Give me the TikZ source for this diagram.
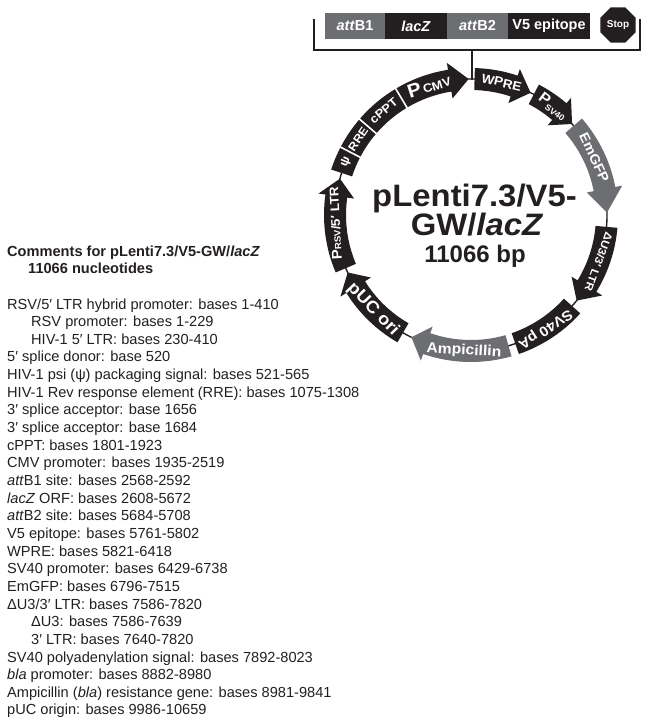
\documentclass[tikz,border=0pt]{standalone}
\usepackage{fontspec}
\setmainfont{Liberation Sans}
\newfontfamily\lblfont[FakeStretch=1.08]{Liberation Sans}
\newfontfamily\titlefont[FakeStretch=1.06]{Liberation Sans}
\usetikzlibrary{shapes.geometric}
\definecolor{ink}{HTML}{231F20}
\definecolor{grayseg}{HTML}{6D6E71}
\newcommand\fs[1]{\fontsize{#1}{#1}\selectfont}
% clockwise arrow: #1 start angle, #2 tip angle, #3 head length (deg), #4 fill
\newcommand\plarrow[4]{\pgfmathsetmacro\hb{#2+#3}%
  \fill[#4] (#1:147) arc[start angle=#1, end angle=\hb, radius=147] -- (\hb:154) -- (#2:136) -- (\hb:118) -- (\hb:125) arc[start angle=\hb, end angle=#1, radius=125] -- cycle;}
\newcommand\plbox[3]{%
  \fill[#3] (#1:147) arc[start angle=#1, end angle=#2, radius=147] -- (#2:125) arc[start angle=#2, end angle=#1, radius=125] -- cycle;}
\begin{document}
\begin{tikzpicture}[x=1pt,y=1pt]
\useasboundingbox (0,0) rectangle (646,-721);
\tikzset{
  lbl/.style={text=white,font=\lblfont\bfseries,inner sep=0pt},
  topbox/.style={inner sep=0pt,minimum height=26.6,text=white,font=\bfseries\fs{14.5}},
  ln/.style={anchor=base west,inner sep=0pt,text=ink,font=\fs{14.6}},
  hd/.style={anchor=base west,inner sep=0pt,text=ink,font=\bfseries\fs{14.6}},
  ctr/.style={anchor=base,inner sep=0pt,text=ink},
  thin/.style={draw=ink,line width=1.4},
}
% ---------- top bracket ----------
\coordinate (brL) at (314,-19);
\coordinate (brLb) at (314,-50);
\coordinate (brRb) at (640,-50);
\coordinate (brR) at (640,-19);
\coordinate (stemtop) at (472,-50);
\coordinate (stembot) at (472,-79.5);
\draw[thin] (brL) -- (brLb) -- (brRb) -- (brR);
\draw[thin] (stemtop) -- (stembot);
\node[topbox,fill=grayseg,minimum width=60] (attB1) at (355,-26) {\textit{att}B1};
\node[topbox,fill=ink,minimum width=62] (lacZ) at (416,-26) {\textit{lacZ}};
\node[topbox,fill=grayseg,minimum width=61] (attB2) at (477.5,-26) {\textit{att}B2};
\node[topbox,fill=ink,minimum width=82] (V5) at (549,-26) {V5 epitope};
\node[regular polygon,regular polygon sides=8,minimum size=38,fill=ink,inner sep=0pt,text=white,font=\bfseries\fs{10}] (stop) at (618,-25) {Stop};
% ---------- plasmid ----------
\begin{scope}[shift={(471,-215)}]
\draw[thin] (0,0) circle[radius=136];
\plarrow{203}{164.5}{7.5}{ink}
\plbox{162}{152.5}{ink}
\plbox{152.5}{139.3}{ink}
\plbox{139.3}{120.8}{ink}
\plarrow{120.8}{91}{8}{ink}
\draw[white,line width=1.6] (152.5:121) -- (152.5:151);
\draw[white,line width=1.6] (139.3:121) -- (139.3:151);
\draw[white,line width=1.6] (120.8:121) -- (120.8:151);
\plarrow{88.5}{64}{7.5}{ink}
\plarrow{62.5}{42}{7.5}{ink}
\plarrow{41}{1}{10}{grayseg}
\plarrow{355}{321}{7.5}{ink}
\plbox{318}{289}{ink}
\plarrow{286}{244}{7}{grayseg}
\plarrow{240}{205}{7}{ink}
% labels
\node[lbl,rotate=93] (lRSV) at (183.5:136) {{\fs{14}P}{\fs{9}RSV}{\fs{12.5}/5′ LTR}};
\node[lbl,rotate=67] (lpsi) at (157:136) {\fs{12}ψ};
\node[lbl,rotate=56] (lRRE) at (146:136) {\fs{11.5}RRE};
\node[lbl,rotate=40] (lcPPT) at (130:136) {\fs{12}cPPT};
\node[lbl,rotate=18] (lCMV) at (108:136) {{\fs{19}P}\,{\fs{12}CMV}};
\node[lbl,rotate=-13] (lWPRE) at (77:136) {\fs{12.5}WPRE};
\node[lbl,rotate=-37] (lSV) at (53:136) {{\fs{15}P}\raisebox{-3.5pt}{\fs{8.5}SV40}};
\node[lbl,rotate=-65] (lGFP) at (25:136) {\fs{13.5}EmGFP};
\node[lbl,rotate=250] (lLTR) at (340:136) {\fs{11}ΔU3/3′ LTR};
\node[lbl,rotate=213] (lpA) at (303:136) {\fs{14}SV40 pA};
\node[lbl,rotate=-3] (lAmp) at (267:136) {\fs{14.5}Ampicillin};
\node[lbl,rotate=-46] (lpUC) at (224:136) {\fs{17}pUC ori};
\end{scope}
% ---------- centre title ----------
\node[ctr,font=\titlefont\bfseries\fs{31}] (t1) at (474.5,-206) {pLenti7.3/V5-};
\node[ctr,font=\titlefont\bfseries\fs{31}] (t2) at (477,-235) {GW/\textit{lacZ}};
\node[ctr,font=\bfseries\fs{24}] (t3) at (475,-262) {11066 bp};
% ---------- comments ----------
\node[hd] (h1) at (7,-256) {Comments for pLenti7.3/V5-GW/\textit{lacZ}};
\node[hd] (h2) at (28,-273) {11066 nucleotides};
\node[ln] (n1) at (7,-309) {RSV/5′ LTR hybrid promoter: bases 1-410};
\node[ln] (n2) at (31,-326.65) {RSV promoter: bases 1-229};
\node[ln] (n3) at (31,-344.3) {HIV-1 5′ LTR: bases 230-410};
\node[ln] (n4) at (7,-361.95) {5′ splice donor: base 520};
\node[ln] (n5) at (7,-379.6) {HIV-1 psi (ψ) packaging signal: bases 521-565};
\node[ln] (n6) at (7,-397.25) {HIV-1 Rev response element (RRE): bases 1075-1308};
\node[ln] (n7) at (7,-414.9) {3′ splice acceptor: base 1656};
\node[ln] (n8) at (7,-432.55) {3′ splice acceptor: base 1684};
\node[ln] (n9) at (7,-450.2) {cPPT: bases 1801-1923};
\node[ln] (n10) at (7,-467.85) {CMV promoter: bases 1935-2519};
\node[ln] (n11) at (7,-485.5) {\textit{att}B1 site: bases 2568-2592};
\node[ln] (n12) at (7,-503.15) {\textit{lacZ} ORF: bases 2608-5672};
\node[ln] (n13) at (7,-520.8) {\textit{att}B2 site: bases 5684-5708};
\node[ln] (n14) at (7,-538.45) {V5 epitope: bases 5761-5802};
\node[ln] (n15) at (7,-556.1) {WPRE: bases 5821-6418};
\node[ln] (n16) at (7,-573.75) {SV40 promoter: bases 6429-6738};
\node[ln] (n17) at (7,-591.4) {EmGFP: bases 6796-7515};
\node[ln] (n18) at (7,-609.05) {ΔU3/3′ LTR: bases 7586-7820};
\node[ln] (n19) at (31,-626.7) {ΔU3: bases 7586-7639};
\node[ln] (n20) at (31,-644.35) {3′ LTR: bases 7640-7820};
\node[ln] (n21) at (7,-662) {SV40 polyadenylation signal: bases 7892-8023};
\node[ln] (n22) at (7,-679.65) {\textit{bla} promoter: bases 8882-8980};
\node[ln] (n23) at (7,-697.3) {Ampicillin (\textit{bla}) resistance gene: bases 8981-9841};
\node[ln] (n24) at (7,-714.95) {pUC origin: bases 9986-10659};
\end{tikzpicture}
\end{document}
